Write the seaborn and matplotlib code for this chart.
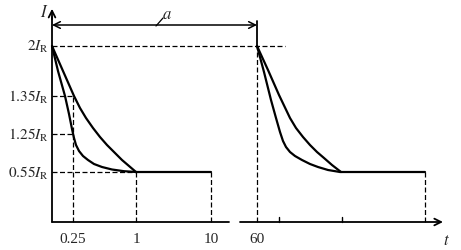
import matplotlib
matplotlib.use("Agg")
import matplotlib.pyplot as plt
import seaborn as sns
import pandas as pd

sns.set_theme(style="white")
plt.rcParams['font.family'] = ['Liberation Serif', 'DejaVu Serif']
plt.rcParams['mathtext.fontset'] = 'stix'

# schematic levels (height above baseline) and labels
level_names = [r"$2I_{\rm R}$", r"$1.35I_{\rm R}$", r"$1.25I_{\rm R}$", r"$0.55I_{\rm R}$"]
level_y = [176, 126, 88, 50]
# schematic time positions and labels
time_labels = ["0.25", "1", "10", "60"]
time_x = [21, 84, 159, 205]
extra_ticks = [227, 290]
end_x = 373
break_left, break_right = 177, 188

# decay curves (schematic coordinates)
g1_inner_x = [0, 6, 13, 17, 20, 22, 24, 27, 31, 36, 42, 50, 60, 72, 84]
g1_inner_y = [176, 151, 126, 108, 93, 84, 77, 71, 66, 62, 58, 55, 52.5, 50.8, 50]
g1_outer_x = [0, 11, 22, 28, 34, 41, 48, 55, 63, 70, 77, 84]
g1_outer_y = [176, 151, 126, 114, 104, 94, 85, 77, 69, 62, 56, 50]
g2_inner_x = [205, 212, 219, 224, 228, 231, 234, 238, 243, 250, 258, 266, 276, 288]
g2_inner_y = [176, 150, 122, 104, 90, 81, 75, 70, 66, 62, 58, 55, 52, 50]
g2_outer_x = [205, 216, 227, 238, 244, 251, 258, 265, 272, 280, 289]
g2_outer_y = [176, 152, 127, 104, 94, 85, 77, 70, 64, 57, 50]

fig = plt.figure(figsize=(4.61, 2.51), dpi=100)
ax = fig.add_axes([0, 0, 1, 1])
ax.set_xlim(-52, 409)
ax.set_ylim(-28, 223)
ax.axis("off")

curves = []
for name, xs, ys in [("g1i", g1_inner_x, g1_inner_y), ("g1o", g1_outer_x, g1_outer_y),
                     ("g2i", g2_inner_x, g2_inner_y), ("g2o", g2_outer_x, g2_outer_y)]:
    curves.append(pd.DataFrame({"x": xs, "y": ys, "c": name}))
df = pd.concat(curves)
for name, sub in df.groupby("c"):
    sns.lineplot(data=sub, x="x", y="y", sort=False, color="black", lw=1.6,
                 ax=ax, legend=False, estimator=None)

lev = dict(zip(["2", "1.35", "1.25", "0.55"], level_y))
tx = dict(zip(time_labels, time_x))

# flat segments at 0.55
ax.plot([tx["1"], tx["10"]], [lev["0.55"]] * 2, color="black", lw=1.6)
ax.plot([g2_inner_x[-1], end_x], [lev["0.55"]] * 2, color="black", lw=1.6)

dash = dict(color="black", lw=0.9, ls=(0, (4, 2)))
ax.plot([0, tx["60"] + 28], [lev["2"]] * 2, **dash)
ax.plot([0, tx["0.25"]], [lev["1.35"]] * 2, **dash)
ax.plot([0, tx["0.25"]], [lev["1.25"]] * 2, **dash)
ax.plot([0, tx["1"]], [lev["0.55"]] * 2, **dash)
ax.plot([tx["0.25"]] * 2, [0, lev["1.35"]], **dash)
ax.plot([tx["1"]] * 2, [0, lev["0.55"]], **dash)
ax.plot([tx["10"]] * 2, [0, lev["0.55"]], **dash)
ax.plot([tx["60"]] * 2, [0, lev["2"]], **dash)
ax.plot([end_x] * 2, [0, lev["0.55"]], **dash)

# axes
ax.plot([0, 0], [0, 205], color="black", lw=1.3)
ax.annotate("", xy=(0, 216), xytext=(0, 200),
            arrowprops=dict(arrowstyle="->", lw=1.3, color="black"))
ax.plot([0, break_left], [0, 0], color="black", lw=1.3)
ax.annotate("", xy=(391, 0), xytext=(break_right, 0),
            arrowprops=dict(arrowstyle="->", lw=1.3, color="black", shrinkA=0, shrinkB=0))
for x in extra_ticks:
    ax.plot([x, x], [0, 5], color="black", lw=1.0)

# dimension a
ax.plot([tx["60"]] * 2, [lev["2"], 201], color="black", lw=1.3)
ax.annotate("", xy=(0, 197), xytext=(tx["60"], 197),
            arrowprops=dict(arrowstyle="<->", lw=1.1, color="black", shrinkA=0, shrinkB=0))
ax.plot([104, 111], [196, 204], color="black", lw=0.9)
ax.text(115, 208, r"$a$", fontsize=12, ha="center", va="center")

# labels
for name, y in zip(level_names, level_y):
    ax.text(-3, y, name, fontsize=11, ha="right", va="center")
for name, x in zip(time_labels, time_x):
    ax.text(x, -17, name, fontsize=11, ha="center", va="center")
ax.text(-8, 210, r"$I$", fontsize=12, ha="center", va="center")
ax.text(394, -18, r"$t$", fontsize=12, ha="center", va="center")

fig.savefig("out.png", dpi=100)
